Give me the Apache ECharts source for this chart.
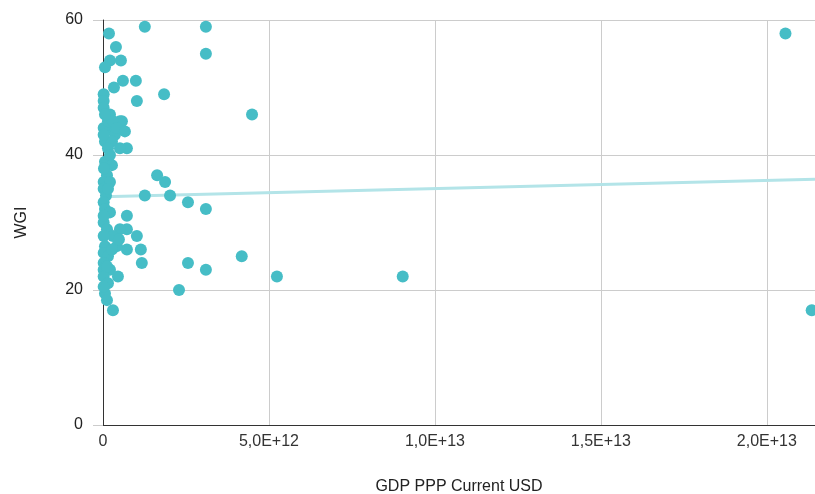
<!DOCTYPE html>
<html><head><meta charset="utf-8">
<script src="https://cdn.jsdelivr.net/npm/echarts@6/dist/echarts.min.js"></script>
<style>html,body{margin:0;padding:0;background:#fff}#c{width:815px;height:494px}</style>
</head><body><div id="c"></div>
<script>
// GDP PPP (trillions USD) and WGI values
const gdpT = [20.56,21.35,9.03,5.24,4.49,4.18,3.10,3.10,3.10,3.10,2.56,2.56,2.29,2.02,1.87,1.63,1.84,1.26,1.26,1.17,
  1.14,1.02,1.02,0.99,0.60,0.72,0.72,0.72,0.72,0.54,0.39,0.18,0.21,0.06,0.33,0.02,0.02,0.02,0.21,0.57,
  0.51,0.21,0.36,0.06,0.27,0.51,0.15,0.02,0.02,0.06,0.21,0.27,0.12,0.02,0.21,0.02,0.09,0.02,0.06,0.21,
  0.02,0.12,0.51,0.30,0.02,0.06,0.42,0.02,0.15,0.02,0.21,0.02,0.45,0.02,0.15,0.06,0.12,0.30,0.02,0.15,
  0.30,0.06,0.42,0.03,0.15,0.02,0.27,0.12,0.66,0.48];
const wgi = [58,17,22,22,46,25,59,55,32,23,33,24,20,34,36,37,49,59,34,24,
  26,28,48,51,51,31,29,26,41,54,56,58,54,53,50,49,48,47,46,45,
  45,44,43,42,42,41,41,44,43,39,40,38.5,37,36,36,35,34,33,32,31.5,
  30,29,29,28,28,26.5,26.5,25.5,25,24,23,23,22,22,21,19.5,18.5,17,20.5,45,
  45,46,44,38,35,31,26,23.5,43.5,27.5];
// trend line endpoints [gdp, wgi]
const trendX = [0, 21.45e12];
const trendY = [33.8, 36.4];
const xTicks = [0, 5e12, 1e13, 1.5e13, 2e13];

const pts = gdpT.map((g,i)=>[g*1e12, wgi[i]]);
function fmt(v){
  if (v===0) return '0';
  const e = Math.floor(Math.log10(v));
  return (v/Math.pow(10,e)).toFixed(1).replace('.',',')+'E+'+e;
}
const FF = '"Liberation Sans", Arial, sans-serif';
const chart = echarts.init(document.getElementById('c'));
chart.setOption({
  animation:false,
  textStyle:{fontFamily:FF},
  grid:{left:103,right:0,top:20,bottom:69,containLabel:false,outerBoundsMode:'none'},
  xAxis:{type:'value',min:0,max:21.45e12,interval:5e12,
    name:'GDP PPP Current USD',nameLocation:'middle',nameGap:54,
    nameTextStyle:{fontSize:16,color:'#222',fontFamily:FF},
    axisLine:{show:true,onZero:false,lineStyle:{color:'#333',width:1}},
    axisTick:{show:false},
    axisLabel:{fontSize:16,color:'#333',margin:9,showMaxLabel:false,fontFamily:FF,
      formatter:v=>xTicks.includes(v)?fmt(v):''},
    splitLine:{show:true,lineStyle:{color:'#ccc'}}},
  yAxis:{type:'value',min:0,max:60,interval:20,
    name:'WGI',nameLocation:'middle',nameGap:73,nameRotate:90,
    nameTextStyle:{fontSize:16,color:'#222',fontFamily:FF},
    axisLine:{show:true,onZero:false,lineStyle:{color:'#333',width:1}},
    axisTick:{show:true,length:10,lineStyle:{color:'#ccc'}},
    axisLabel:{fontSize:16,color:'#222',margin:20,fontFamily:FF},
    splitLine:{show:true,lineStyle:{color:'#ccc'}}},
  series:[
    {type:'line',data:trendX.map((x,i)=>[x,trendY[i]]),symbol:'none',
      lineStyle:{color:'#b3e4e8',width:3},z:1,silent:true},
    {type:'scatter',data:pts,symbolSize:12,itemStyle:{color:'#46bdc6',opacity:1},z:3}
  ]
});
</script></body></html>
